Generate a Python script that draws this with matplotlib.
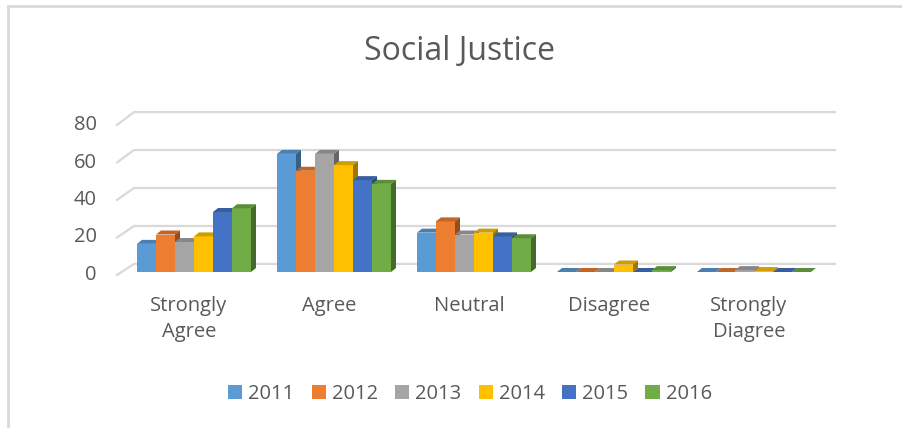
import matplotlib
matplotlib.use("Agg")
import matplotlib.pyplot as plt
from matplotlib.patches import Polygon, Patch
from matplotlib.lines import Line2D
import numpy as np
import matplotlib.colors as mcolors

categories = ["Strongly\nAgree", "Agree", "Neutral", "Disagree", "Strongly\nDiagree"]
years = ["2011", "2012", "2013", "2014", "2015", "2016"]
v2011 = [15, 63, 21, 0, 0]
v2012 = [20, 54, 27, 0, 0]
v2013 = [16, 63, 20, 0, 1]
v2014 = [19, 57, 21, 4, 0.5]
v2015 = [32, 49, 19, 0, 0]
v2016 = [34, 47, 18, 1, 0]
series = [v2011, v2012, v2013, v2014, v2015, v2016]
colors = ["#5B9BD5", "#ED7D31", "#A5A5A5", "#FFC000", "#4472C4", "#70AD47"]
yticks = [0, 20, 40, 60, 80]

W, H = 902, 428
fig = plt.figure(figsize=(W / 100, H / 100), dpi=100)
fig.patch.set_facecolor("white")

# pixel geometry
sx, sy = 140.0, 1.875
cx0, base_px = 189.0, 272.0
xl, xr = -0.6, 4.65
yb, yt = -5, 90
left_px = cx0 + xl * sx
right_px = cx0 + xr * sx
bot_px = base_px - yb * sy
top_px = base_px - yt * sy
ax = fig.add_axes([left_px / W, 1 - bot_px / H, (right_px - left_px) / W, (bot_px - top_px) / H])
ax.set_xlim(xl, xr)
ax.set_ylim(yb, yt)
ax.axis("off")

font = ["Open Sans", "DejaVu Sans"]
tcol = "#595959"
gcol = "#D9D9D9"

# back wall gridlines with floor/side diagonal
wall_x0 = (134 - cx0) / sx
wall_x1 = (835 - cx0) / sx
front_x = (117 - cx0) / sx
for g in yticks:
    yb_ = g * 1.0125 + 4.3
    yf = g - 1.6
    ax.plot([front_x, wall_x0, wall_x1], [yf, yb_, yb_], color=gcol, lw=1.6, zorder=1,
            solid_joinstyle="miter")
    ax.text((97 - cx0) / sx, yf, str(g), ha="right", va="center", fontsize=14.5,
            color=tcol, family=font, clip_on=False)

# bars with pseudo-3D faces
bw = 19.0 / sx
dx = 5.0 / sx
dy = 4.0 / sy
shift = 5.0 / sx
n = len(series)

def shade(c, f):
    r, g_, b = mcolors.to_rgb(c)
    return (r * f, g_ * f, b * f)

z = 2
for ci in range(len(categories)):
    start = ci + shift - n * bw / 2
    for si, vals in enumerate(series):
        v = vals[ci]
        x0 = start + si * bw
        col = colors[si]
        front = Polygon([(x0, 0), (x0 + bw, 0), (x0 + bw, v), (x0, v)], closed=True,
                        facecolor=col, edgecolor="none", zorder=z)
        top = Polygon([(x0, v), (x0 + dx, v + dy), (x0 + bw + dx, v + dy), (x0 + bw, v)],
                      closed=True, facecolor=shade(col, 0.82), edgecolor="none", zorder=z)
        side = Polygon([(x0 + bw, 0), (x0 + bw + dx, dy), (x0 + bw + dx, v + dy), (x0 + bw, v)],
                       closed=True, facecolor=shade(col, 0.62), edgecolor="none", zorder=z)
        for p in (front, top, side):
            ax.add_patch(p)
        z += 0.01

# category labels
for ci, cat in enumerate(categories):
    ax.text(ci, (base_px - 296) / sy, cat, ha="center", va="top", fontsize=14.5,
            color=tcol, family=font, linespacing=1.4, clip_on=False)

# title
fig.text(460 / W, 1 - 52 / H, "Social Justice", ha="center", va="center", fontsize=23,
         color=tcol, family=font)

# legend
handles = [Patch(facecolor=c, edgecolor="none") for c in colors]
leg = fig.legend(handles, years, loc="center", bbox_to_anchor=(470 / W, 1 - 394 / H), ncol=6,
                 frameon=False, prop={"family": font, "size": 14.5}, handlelength=0.7,
                 handleheight=0.7, handletextpad=0.3, columnspacing=0.85)
for t in leg.get_texts():
    t.set_color(tcol)

# outer frame (top and left edges)
fig.add_artist(Line2D([8 / W, 1], [1 - 6 / H, 1 - 6 / H], transform=fig.transFigure, color=gcol, lw=2))
fig.add_artist(Line2D([8 / W, 8 / W], [0, 1 - 6 / H], transform=fig.transFigure, color=gcol, lw=2))

fig.savefig("out.png", dpi=100, facecolor="white")
